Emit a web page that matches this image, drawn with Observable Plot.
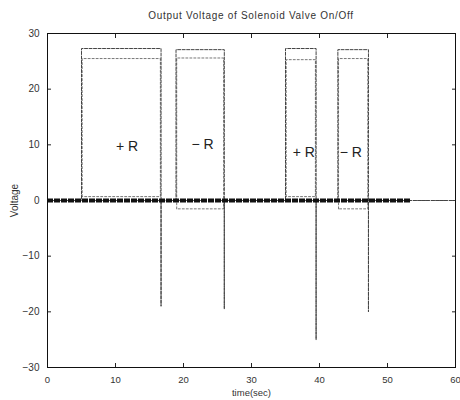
<!DOCTYPE html>
<html><head><meta charset="utf-8">
<script src="https://cdn.jsdelivr.net/npm/d3@7"></script>
<script src="https://cdn.jsdelivr.net/npm/@observablehq/plot@0.6"></script>
<style>
body{margin:0;background:#fff;font-family:"Liberation Sans",Arial,sans-serif;}
#title{height:26px;line-height:31px;text-align:center;font-size:10px;padding-left:42px;letter-spacing:0.7px;color:#333;}
</style></head><body>
<div id="title">Output Voltage of Solenoid Valve On/Off</div>
<div id="chart"></div>
<script>
const xTicks = [0, 10, 20, 30, 40, 50, 60];
const yTicks = [-30, -20, -10, 0, 10, 20, 30];
// outer voltage trace (time in s, voltage in V)
const traceTime = [0, 5, 5, 16.7, 16.7, 16.7, 18.9, 18.9, 26, 26, 26, 35, 35, 39.5, 39.5, 39.5, 42.7, 42.7, 47.2, 47.2, 47.2, 60];
const traceVolt = [0, 0, 27.3, 27.3, -19, 0, 0, 27.1, 27.1, -19.5, 0, 0, 27.3, 27.3, -25, 0, 0, 27.1, 27.1, -20, 0, 0];
// inner (dotted) trace per pulse
const pulseStart = [5.1, 19.0, 35.1, 42.8];
const pulseEnd = [16.6, 25.9, 39.4, 47.1];
const innerTop = [25.5, 25.6, 25.3, 25.5];
const innerBottom = [0.7, -1.5, 0.7, -1.5];
// thick measured baseline
const baselineStart = 0;
const baselineEnd = 53.4;
// annotations
const labels = ["+ R", "\u2212 R", "+ R", "\u2212 R"];
const labelTime = [11.7, 22.8, 37.7, 44.6];
const labelVolt = [9.7, 10, 8.6, 8.6];

const outer = traceTime.map((t, i) => ({t, v: traceVolt[i]}));
const inner = [];
pulseStart.forEach((s, i) => {
  const e = pulseEnd[i], top = innerTop[i], bot = innerBottom[i];
  [[s, bot], [s, top], [e, top], [e, bot], [s, bot]].forEach(([t, v]) => inner.push({t, v, p: i}));
});
const ann = labels.map((l, i) => ({l, t: labelTime[i], v: labelVolt[i]}));

const chart = Plot.plot({
  width: 460, height: 374,
  marginTop: 7, marginBottom: 33, marginLeft: 47, marginRight: 5,
  style: {fontFamily: "Liberation Sans, Arial, sans-serif", fontSize: "9px", color: "#333", background: "#fff"},
  x: {domain: [0, 60]},
  y: {domain: [-30, 30]},
  marks: [
    Plot.axisX(xTicks, {anchor: "bottom", tickSize: -4, tickPadding: 13, label: "time(sec)", labelAnchor: "center", labelOffset: 28, labelArrow: "none", fontSize: 9.5, stroke: "#222"}),
    Plot.axisX(xTicks, {anchor: "top", tickSize: -4, text: null, label: null, stroke: "#222"}),
    Plot.axisY(yTicks, {anchor: "left", tickSize: -4, tickPadding: 12, label: "Voltage", labelAnchor: "center", labelOffset: 37, labelArrow: "none", fontSize: 10, stroke: "#222"}),
    Plot.axisY(yTicks, {anchor: "right", tickSize: -4, text: null, label: null, stroke: "#222"}),
    Plot.ruleY([0], {x1: baselineStart, x2: 60, stroke: "#555", strokeWidth: 1, strokeDasharray: "4,2"}),
    Plot.line(inner, {x: "t", y: "v", z: "p", stroke: "#777", strokeWidth: 1, strokeDasharray: "2,2"}),
    Plot.line(outer, {x: "t", y: "v", stroke: "#444", strokeWidth: 1, strokeDasharray: "3,1.5"}),
    Plot.ruleY([0], {x1: baselineStart, x2: baselineEnd, stroke: "#111", strokeWidth: 4, strokeDasharray: "6,1"}),
    Plot.text(ann, {x: "t", y: "v", text: "l", fontSize: 14, fill: "#222"}),
    Plot.frame({stroke: "#111", strokeWidth: 1})
  ]
});
document.getElementById("chart").appendChild(chart);
</script>
</body></html>
